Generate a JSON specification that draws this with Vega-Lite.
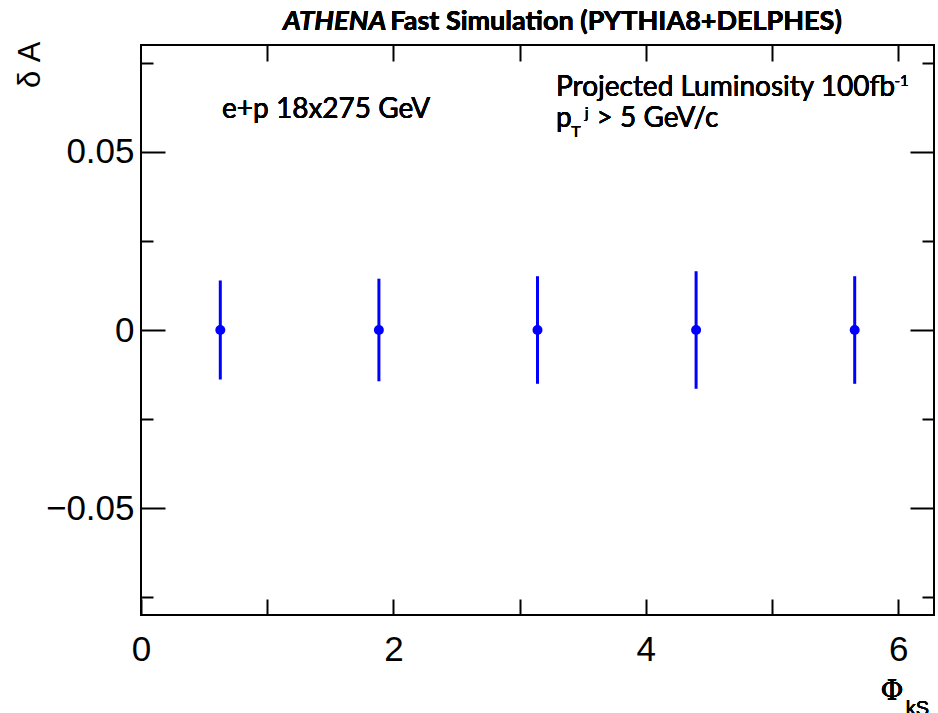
{
  "$schema": "https://vega.github.io/schema/vega-lite/v6.json",
  "width": 793,
  "height": 570,
  "autosize": {"type": "none"},
  "padding": {"left": 141, "top": 45, "right": 4, "bottom": 98},
  "background": "white",
  "config": {
    "view": {"stroke": "black", "strokeWidth": 2},
    "axis": {"grid": false, "domain": false, "tickColor": "black", "tickWidth": 2, "labelFont": "Liberation Sans", "labelFontSize": 35, "labelColor": "black", "labelFlush": false, "labelOverlap": false}
  },
  "data": {"values": [
    {"phi": 0.6283, "A": 0, "lo": -0.0139, "hi": 0.0139},
    {"phi": 1.885, "A": 0, "lo": -0.0144, "hi": 0.0144},
    {"phi": 3.1416, "A": 0, "lo": -0.0151, "hi": 0.0151},
    {"phi": 4.3982, "A": 0, "lo": -0.0165, "hi": 0.0165},
    {"phi": 5.6549, "A": 0, "lo": -0.0151, "hi": 0.0151}
  ]},
  "resolve": {"axis": {"x": "independent", "y": "independent"}},
  "layer": [
    {
      "mark": {"type": "rule", "color": "#0000ff", "strokeWidth": 3},
      "encoding": {
        "x": {"field": "phi", "type": "quantitative", "scale": {"domain": [0, 6.2832], "nice": false, "zero": false},
          "axis": {"orient": "bottom", "values": [0, 1, 2, 3, 4, 5, 6], "tickSize": -16, "labelExpr": "datum.value % 2 == 0 ? datum.label : ''", "labelPadding": 33, "title": null}},
        "y": {"field": "lo", "type": "quantitative", "scale": {"domain": [-0.08, 0.08], "nice": false, "zero": false},
          "axis": {"orient": "left", "values": [-0.05, 0, 0.05], "format": ".2~f", "tickSize": -24, "labelPadding": 31,
            "title": "δ A", "titleFont": "Liberation Sans", "titleFontSize": 31, "titleFontWeight": "normal", "titleColor": "black",
            "titleAngle": -90, "titleAlign": "right", "titleBaseline": "middle", "titleX": -111, "titleY": -4}},
        "y2": {"field": "hi"}
      }
    },
    {
      "mark": {"type": "point", "filled": true, "shape": "circle", "color": "#0000ff", "size": 100, "opacity": 1},
      "encoding": {
        "x": {"field": "phi", "type": "quantitative", "axis": {"orient": "top", "values": [1, 2, 3, 4, 5, 6], "tickSize": -16, "labels": false, "title": null}},
        "y": {"field": "A", "type": "quantitative", "axis": {"orient": "left", "values": [-0.075, -0.025, 0.025, 0.075], "tickSize": -12, "labels": false, "title": null}}
      }
    },
    {
      "mark": {"type": "point", "opacity": 0},
      "encoding": {
        "x": {"field": "phi", "type": "quantitative", "axis": null},
        "y": {"field": "A", "type": "quantitative", "axis": {"orient": "right", "values": [-0.05, 0, 0.05], "tickSize": -24, "labels": false, "title": null}}
      }
    },
    {
      "mark": {"type": "point", "opacity": 0},
      "encoding": {
        "x": {"field": "phi", "type": "quantitative", "axis": null},
        "y": {"field": "A", "type": "quantitative", "axis": {"orient": "right", "values": [-0.075, -0.025, 0.025, 0.075], "tickSize": -12, "labels": false, "title": null}}
      }
    },
    {
      "mark": {"type": "text", "text": "ATHENA", "font": "Lato", "fontSize": 27.5, "fontWeight": "bold", "fontStyle": "italic", "align": "left", "baseline": "alphabetic", "color": "black"},
      "encoding": {"x": {"datum": 1.125, "type": "quantitative", "axis": null}, "y": {"datum": 0.0842, "type": "quantitative", "axis": null}}
    },
    {
      "mark": {"type": "text", "text": "Fast Simulation (PYTHIA8+DELPHES)", "font": "Lato", "fontSize": 27, "fontWeight": "bold", "align": "left", "baseline": "alphabetic", "color": "black"},
      "encoding": {"x": {"datum": 1.975, "type": "quantitative", "axis": null}, "y": {"datum": 0.0842, "type": "quantitative", "axis": null}}
    },
    {
      "mark": {"type": "text", "text": "e+p 18x275 GeV", "font": "Lato", "fontSize": 28, "fontWeight": "normal", "align": "left", "baseline": "alphabetic", "color": "black"},
      "encoding": {"x": {"datum": 0.642, "type": "quantitative", "axis": null}, "y": {"datum": 0.0594, "type": "quantitative", "axis": null}}
    },
    {
      "mark": {"type": "text", "text": "Projected Luminosity 100fb", "font": "Lato", "fontSize": 28, "fontWeight": "normal", "align": "left", "baseline": "alphabetic", "color": "black"},
      "encoding": {"x": {"datum": 3.288, "type": "quantitative", "axis": null}, "y": {"datum": 0.0657, "type": "quantitative", "axis": null}}
    },
    {
      "mark": {"type": "text", "text": "-1", "font": "Lato", "fontSize": 15, "fontWeight": "normal", "align": "left", "baseline": "alphabetic", "color": "black"},
      "encoding": {"x": {"datum": 5.97, "type": "quantitative", "axis": null}, "y": {"datum": 0.0685, "type": "quantitative", "axis": null}}
    },
    {
      "mark": {"type": "text", "text": "p", "font": "Lato", "fontSize": 28, "fontWeight": "normal", "align": "left", "baseline": "alphabetic", "color": "black"},
      "encoding": {"x": {"datum": 3.288, "type": "quantitative", "axis": null}, "y": {"datum": 0.057, "type": "quantitative", "axis": null}}
    },
    {
      "mark": {"type": "text", "text": "T", "font": "Lato", "fontSize": 16, "fontWeight": "normal", "align": "left", "baseline": "alphabetic", "color": "black"},
      "encoding": {"x": {"datum": 3.41, "type": "quantitative", "axis": null}, "y": {"datum": 0.0542, "type": "quantitative", "axis": null}}
    },
    {
      "mark": {"type": "text", "text": "j", "font": "Lato", "fontSize": 16, "fontWeight": "normal", "align": "left", "baseline": "alphabetic", "color": "black"},
      "encoding": {"x": {"datum": 3.515, "type": "quantitative", "axis": null}, "y": {"datum": 0.0595, "type": "quantitative", "axis": null}}
    },
    {
      "mark": {"type": "text", "text": "> 5 GeV/c", "font": "Lato", "fontSize": 28, "fontWeight": "normal", "align": "left", "baseline": "alphabetic", "color": "black"},
      "encoding": {"x": {"datum": 3.61, "type": "quantitative", "axis": null}, "y": {"datum": 0.057, "type": "quantitative", "axis": null}}
    },
    {
      "mark": {"type": "text", "text": "Φ", "font": "DejaVu Serif", "fontSize": 28, "align": "center", "baseline": "alphabetic", "color": "black"},
      "encoding": {"x": {"datum": 5.951, "type": "quantitative", "axis": null}, "y": {"datum": -0.1039, "type": "quantitative", "axis": null}}
    },
    {
      "mark": {"type": "text", "text": "kS", "font": "Liberation Sans", "fontSize": 20, "align": "left", "baseline": "alphabetic", "color": "black"},
      "encoding": {"x": {"datum": 6.06, "type": "quantitative", "axis": null}, "y": {"datum": -0.108, "type": "quantitative", "axis": null}}
    }
  ]
}
